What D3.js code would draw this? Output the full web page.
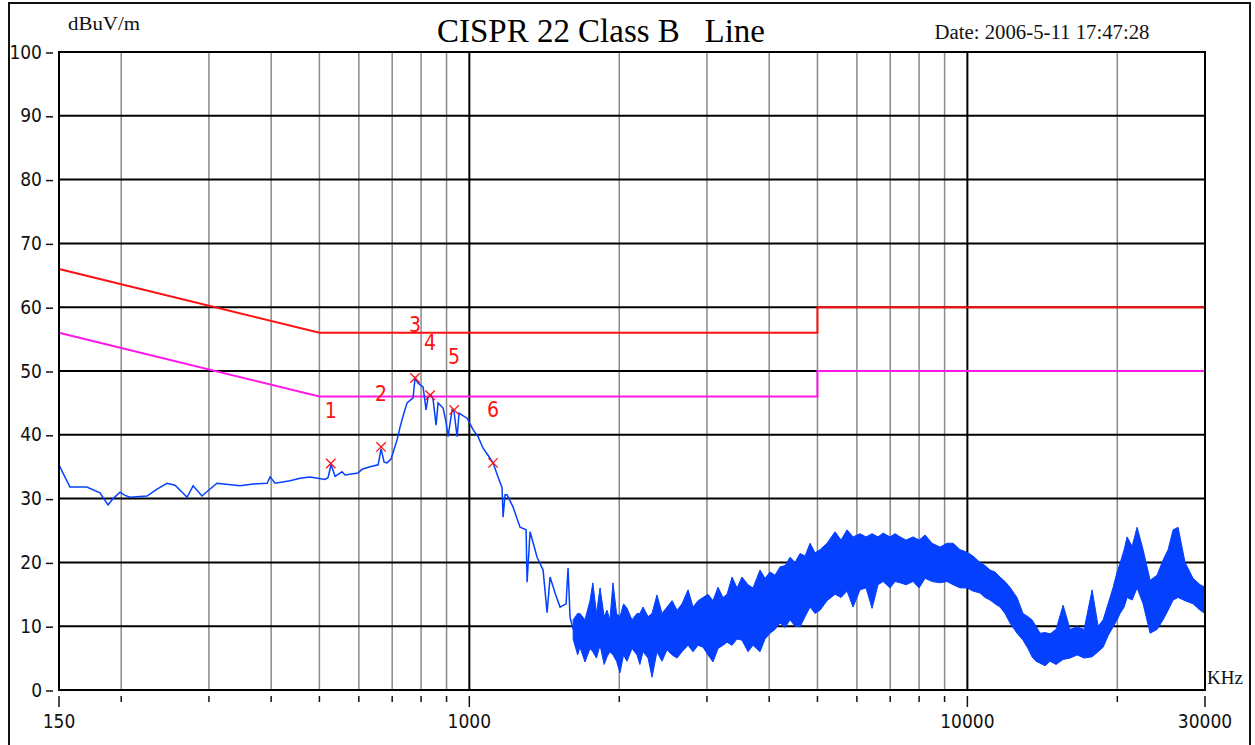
<!DOCTYPE html>
<html>
<head>
<meta charset="utf-8">
<style>
	body{ margin:0; background:#fff; }
	svg{ display:block; }
	.serif{ font-family: "Liberation Serif", "DejaVu Serif", serif; }
	.narrow{ font-family: "Liberation Sans Narrow", "DejaVu Sans Condensed", "Liberation Sans", sans-serif; }
</style>
</head>
<body>
<script src="https://cdn.jsdelivr.net/npm/d3@7"></script>
<script>

	// ---- data ----
	var yTicks = [0, 10, 20, 30, 40, 50, 60, 70, 80, 90, 100];
	var gridFreq = [200, 300, 400, 500, 600, 700, 800, 900, 1000, 2000, 3000, 4000, 5000,
		6000, 7000, 8000, 9000, 10000, 20000];
	var majorFreq = [1000, 10000];
	var xLabels = [150, 1000, 10000, 30000];

	// limit lines (quasi-peak and average)
	var limitFreq = [150, 500, 5000, 5000, 30000];
	var qpLevel = [66, 56, 56, 60, 60];
	var avLevel = [56, 46, 46, 50, 50];

	// scan trace, low frequency part (kHz, dBuV)
	var traceFreq = [150, 152.8, 157.8, 170.6, 181.3, 188.2, 192.6, 198.9, 203.5, 208.3, 225.3, 236, 247.2,
		256.5, 271.2, 278.8, 290.6, 301.6, 311.4, 346.4, 368, 392.6, 398.1, 407.4, 436.6, 457.2, 478.8,
		513.2, 520.4, 527.7, 537.5, 555.2, 563, 597.9, 609, 632, 655.9, 665, 674.3, 683.7, 696.3, 715.9,
		725.9, 739.6, 749.9, 770.9, 778.1, 789, 807.4, 818.7, 826.4, 837.9, 845.7, 857.5, 865.4, 885.7,
		898, 906.4, 923.4, 931.9, 944.9, 953.7, 967, 989.6, 1017.4, 1041.2, 1065.5, 1090.3, 1115.8,
		1141.9, 1163.3, 1168.7, 1179.5, 1190.4, 1223.8, 1264.2, 1300, 1306, 1324.2, 1367.8, 1406.3,
		1432.5, 1452.4, 1486.3, 1521.1, 1563.9, 1578.4, 1593, 1616];
	var traceLevel = [35.3, 34.0, 31.8, 31.8, 30.9, 29.0, 30.0, 31.0, 30.5, 30.2, 30.4, 31.5, 32.4,
		32.1, 30.2, 32.0, 30.4, 31.5, 32.4, 32.0, 32.3, 32.4, 33.4, 32.4, 32.8, 33.2, 33.4,
		33.0, 33.3, 35.3, 33.5, 34.2, 33.7, 34.0, 34.6, 35.0, 35.3, 37.8, 35.7, 35.6, 36.2, 39.2,
		41.2, 43.5, 45.0, 45.8, 48.9, 48.1, 47.5, 43.9, 45.9, 46.2, 45.5, 41.5, 45.0, 44.2,
		42.0, 39.7, 43.9, 43.6, 39.7, 43.4, 43.1, 42.6, 40.8, 39.7, 37.9, 36.8, 35.6,
		33.4, 31.7, 27.1, 30.6, 30.6, 28.7, 25.5, 25.1, 16.9, 24.8, 20.8, 18.8,
		12.1, 17.7, 15.2, 13.0, 13.5, 19.1, 11.4, 9.5];

	// scan trace, noisy part: upper and lower edge of the band (kHz, dBuV)
	var noiseFreq = [1616, 1650, 1668, 1707, 1747, 1770, 1800, 1830, 1865, 1890, 1915, 1943, 1975, 2007,
		2040, 2073, 2121, 2171, 2200, 2232, 2285, 2327, 2381, 2437, 2494, 2553, 2613, 2673, 2749,
		2813, 2879, 2946, 3015, 3085, 3157, 3231, 3292, 3369, 3447, 3528, 3627, 3712, 3834, 3924,
		4016, 4110, 4206, 4305, 4405, 4508, 4614, 4722, 4832, 4945, 5060, 5227, 5424, 5577, 5733,
		5895, 6088, 6259, 6436, 6617, 6772, 6995, 7158, 7326, 7531, 7780, 7999, 8224, 8493, 8813,
		9103, 9360, 9668, 9985, 10265, 10603, 10851, 11104, 11364, 11629, 11901, 12177, 12579,
		12932, 13236, 13482, 13733, 13995, 14322, 14658, 15069, 15567, 16079, 16610, 17153, 17802,
		18302, 18732, 19169, 19620, 19983, 20262, 20642, 20928, 21416, 21918, 22533, 23276, 24039,
		24718, 25296, 25886, 26490, 27358, 28392, 29328, 30000];
	var noiseHi = [11.0, 12.0, 12.0, 11.0, 14.0, 16.8, 12.0, 16.0, 11.5, 12.5, 11.0, 16.8, 12.0, 11.5,
		13.5, 12.8, 11.0, 12.0, 12.0, 13.0, 11.5, 12.0, 14.9, 12.0, 13.0, 14.0, 12.5, 13.5, 15.7,
		13.0, 14.0, 14.5, 15.0, 14.0, 16.1, 14.5, 15.0, 17.7, 16.0, 17.7, 16.5, 16.0, 18.8, 17.5,
		18.5, 18.0, 19.3, 19.5, 20.8, 20.0, 21.4, 21.0, 23.0, 21.5, 22.0, 23.0, 24.8, 23.5, 25.1,
		24.0, 24.5, 24.0, 24.5, 24.0, 24.6, 24.0, 24.5, 24.0, 23.5, 24.0, 23.5, 24.3, 23.0, 22.4,
		23.0, 23.0, 22.0, 21.6, 21.0, 20.0, 19.5, 18.8, 18.5, 17.7, 17.0, 16.1, 14.5,
		12.0, 11.5, 11.0, 10.0, 8.9, 9.0, 8.8, 9.5, 13.3, 9.5, 9.9, 9.5, 15.7,
		10.0, 11.0, 13.5, 16.1, 18.5, 19.9, 22.0, 24.0, 22.5, 25.5, 22.0, 17.2, 18.0,
		20.4, 22.0, 25.1, 25.5, 20.0, 17.5, 16.5, 16.1];
	var noiseLo = [8.0, 5.5, 6.7, 4.4, 6.5, 6.0, 5.0, 7.0, 4.0, 5.2, 6.0, 5.5, 4.5, 2.7,
		5.5, 4.5, 6.5, 5.5, 4.0, 6.0, 5.0, 2.0, 6.0, 4.5, 6.3, 5.5, 5.0, 6.0, 7.0,
		6.0, 7.0, 6.7, 5.5, 4.4, 6.5, 7.0, 7.5, 7.0, 8.0, 7.8, 6.0, 7.0, 6.0, 8.0,
		8.9, 9.5, 10.5, 9.8, 11.0, 10.0, 9.9, 11.5, 13.0, 12.0, 12.5, 14.0, 15.0, 14.5, 15.5,
		13.0, 15.7, 16.0, 12.8, 16.5, 17.0, 16.0, 17.0, 16.8, 16.5, 17.0, 16.0, 17.5, 17.0, 16.8,
		17.0, 16.5, 16.0, 16.0, 15.5, 15.2, 14.5, 14.1, 13.5, 13.0, 12.0, 10.5, 8.9,
		7.8, 6.5, 5.2, 4.5, 4.2, 3.8, 4.5, 4.0, 4.8, 5.0, 5.5, 5.0, 5.2,
		6.0, 6.7, 8.5, 9.9, 11.0, 12.0, 13.0, 14.5, 14.1, 16.0, 13.5, 8.9, 9.5,
		11.0, 12.5, 14.1, 14.5, 14.0, 13.5, 12.5, 12.0];

	// marked peaks
	var markerFreq = [527, 665, 778, 834, 932, 1116];
	var markerLevel = [35.5, 38.1, 48.9, 46.2, 43.9, 35.6];
	var markerName = ["1", "2", "3", "4", "5", "6"];

	// ---- drawing ----
	var W = 1255, H = 745;
	var plotL = 59, plotR = 1205, plotT = 52, plotB = 690;
	var blue = "#0540ff", red = "#ff1010", pink = "#ff18e8";

	var x = d3.scaleLog().domain([150, 30000]).range([plotL, plotR]);
	var y = d3.scaleLinear().domain([0, 100]).range([plotB, plotT]);

	var svg = d3.select("body").append("svg")
		.attr("width", W)
		.attr("height", H);

	svg.append("rect").attr("width", W).attr("height", H).attr("fill", "#fff");

	// window frame
	svg.append("rect")
		.attr("x", 9).attr("y", 3)
		.attr("width", 1241).attr("height", 770)
		.attr("fill", "none")
		.attr("stroke", "#111")
		.attr("stroke-width", 2);

	// vertical grid
	svg.selectAll(".vgrid")
		.data(gridFreq)
		.enter().append("line")
		.attr("x1", function(d){ return x(d); })
		.attr("x2", function(d){ return x(d); })
		.attr("y1", plotT).attr("y2", plotB)
		.attr("stroke", function(d){ return majorFreq.includes(d) ? "#000" : "#8a8a8a"; })
		.attr("stroke-width", function(d){ return majorFreq.includes(d) ? 2 : 1.5; });

	// horizontal grid
	svg.selectAll(".hgrid")
		.data(yTicks.slice(1, -1))
		.enter().append("line")
		.attr("x1", plotL).attr("x2", plotR)
		.attr("y1", function(d){ return y(d); })
		.attr("y2", function(d){ return y(d); })
		.attr("stroke", "#000")
		.attr("stroke-width", 2);

	// y ticks and labels
	var yt = svg.selectAll(".ytick")
		.data(yTicks)
		.enter().append("g");
	yt.append("line")
		.attr("x1", 46).attr("x2", 53)
		.attr("y1", function(d){ return y(d) + 1; })
		.attr("y2", function(d){ return y(d) + 1; })
		.attr("stroke", "#111").attr("stroke-width", 1.5);
	yt.append("text")
		.attr("class", "narrow")
		.attr("x", 42)
		.attr("y", function(d){ return y(d); })
		.attr("dy", "0.35em")
		.attr("text-anchor", "end")
		.attr("font-size", "19px")
		.attr("fill", "#111")
		.text(function(d){ return d; });

	// x ticks under the axis
	svg.selectAll(".xtick")
		.data([150].concat(gridFreq, [30000]))
		.enter().append("line")
		.attr("x1", function(d){ return x(d); })
		.attr("x2", function(d){ return x(d); })
		.attr("y1", 696)
		.attr("y2", function(d){ return xLabels.includes(d) ? 707 : 702; })
		.attr("stroke", "#111").attr("stroke-width", 1.5);

	svg.selectAll(".xlab")
		.data(xLabels)
		.enter().append("text")
		.attr("class", "narrow")
		.attr("x", function(d){ return x(d); })
		.attr("y", 728)
		.attr("text-anchor", "middle")
		.attr("font-size", "19px")
		.attr("fill", "#111")
		.text(function(d){ return d; });

	svg.append("text")
		.attr("class", "serif")
		.attr("x", 1207).attr("y", 684)
		.attr("font-size", "19px")
		.attr("fill", "#111")
		.text("KHz");

	// limit lines
	function limitLine(levels){
		return d3.line()
			.x(function(d, i){ return x(limitFreq[i]); })
			.y(function(d){ return y(d); })(levels);
	}
	svg.append("path")
		.attr("d", limitLine(qpLevel))
		.attr("fill", "none").attr("stroke", red).attr("stroke-width", 2);
	svg.append("path")
		.attr("d", limitLine(avLevel))
		.attr("fill", "none").attr("stroke", pink).attr("stroke-width", 2);

	// noisy band
	var band = d3.area()
		.x(function(d){ return x(d); })
		.y0(function(d, i){ return y(noiseLo[i]); })
		.y1(function(d, i){ return y(noiseHi[i]); });
	svg.append("path")
		.datum(noiseFreq)
		.attr("d", band)
		.attr("fill", blue)
		.attr("stroke", blue)
		.attr("stroke-width", 1)
		.attr("stroke-linejoin", "miter");

	// low-frequency trace
	var trace = d3.line()
		.x(function(d){ return x(d); })
		.y(function(d, i){ return y(traceLevel[i]); });
	svg.append("path")
		.datum(traceFreq)
		.attr("d", trace)
		.attr("fill", "none")
		.attr("stroke", blue)
		.attr("stroke-width", 1.5);

	// markers
	var mk = svg.selectAll(".marker")
		.data(markerFreq)
		.enter().append("g");
	mk.append("path")
		.attr("d", d3.symbol(d3.symbolX, 60))
		.attr("transform", function(d, i){ return "translate(" + x(d) + "," + y(markerLevel[i]) + ")"; })
		.attr("fill", "none")
		.attr("stroke", red)
		.attr("stroke-width", 1.3);
	mk.append("text")
		.attr("class", "narrow")
		.attr("x", function(d){ return x(d); })
		.attr("y", function(d, i){ return y(markerLevel[i]) - 53; })
		.attr("dy", "0.35em")
		.attr("text-anchor", "middle")
		.attr("font-size", "21px")
		.attr("fill", red)
		.text(function(d, i){ return markerName[i]; });

	// plot frame
	svg.append("rect")
		.attr("x", plotL).attr("y", plotT)
		.attr("width", plotR - plotL).attr("height", plotB - plotT)
		.attr("fill", "none")
		.attr("stroke", "#000")
		.attr("stroke-width", 2);

	// texts
	svg.append("text")
		.attr("class", "serif")
		.attr("x", 601).attr("y", 42)
		.attr("text-anchor", "middle")
		.attr("font-size", "33px")
		.attr("fill", "#000")
		.attr("xml:space", "preserve")
		.style("white-space", "pre")
		.attr("textLength", 328)
		.attr("lengthAdjust", "spacingAndGlyphs")
		.text("CISPR 22 Class B   Line");

	svg.append("text")
		.attr("class", "serif")
		.attr("x", 68).attr("y", 30)
		.attr("font-size", "19px")
		.attr("fill", "#111")
		.attr("textLength", 72)
		.attr("lengthAdjust", "spacingAndGlyphs")
		.text("dBuV/m");

	svg.append("text")
		.attr("class", "serif")
		.attr("x", 1042).attr("y", 39)
		.attr("text-anchor", "middle")
		.attr("font-size", "20px")
		.attr("fill", "#111")
		.attr("textLength", 215)
		.attr("lengthAdjust", "spacingAndGlyphs")
		.text("Date: 2006-5-11 17:47:28");

</script>
</body>
</html>
